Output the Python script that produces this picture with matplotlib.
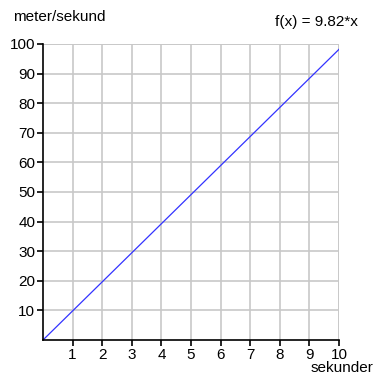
import numpy as np
import matplotlib.pyplot as plt

plt.rcParams['font.family'] = ['Liberation Sans', 'DejaVu Sans']

# data: f(x) = 9.82*x, sampled at integer seconds
x = np.array([0, 1, 2, 3, 4, 5, 6, 7, 8, 9, 10])
k = 9.82
y = k * x

xticks = [1, 2, 3, 4, 5, 6, 7, 8, 9, 10]
yticks = [10, 20, 30, 40, 50, 60, 70, 80, 90, 100]

fig = plt.figure(figsize=(3.75, 3.74), dpi=100)
ax = fig.add_axes([43/375, 34/374, 296/375, 296/374])

ax.plot(x, y, color='#3333ff', lw=0.9)

ax.set_xlim(0, 10)
ax.set_ylim(0, 100)
ax.set_xticks(xticks)
ax.set_yticks(yticks)
ax.tick_params(labelsize=11, length=4, width=1.2, colors='black', pad=1.5)
ax.grid(True, color='#c8c8c8', lw=1.2)
ax.set_axisbelow(True)

for s in ['top', 'right']:
    ax.spines[s].set_visible(False)
for s in ['left', 'bottom']:
    ax.spines[s].set_linewidth(1.2)

# right and top grid borders
ax.axvline(10, color='#c8c8c8', lw=1.2, zorder=0)
ax.axhline(100, color='#c8c8c8', lw=1.2, zorder=0)

fig.text(13/375, 1 - 17/374, 'meter/sekund', fontsize=11, va='center', ha='left')
fig.text(358/375, 1 - 22/374, 'f(x) = 9.82*x', fontsize=11, va='center', ha='right')
fig.text(373/375, 1 - 367.5/374, 'sekunder', fontsize=11, va='center', ha='right')

plt.savefig('out.png', dpi=100)
